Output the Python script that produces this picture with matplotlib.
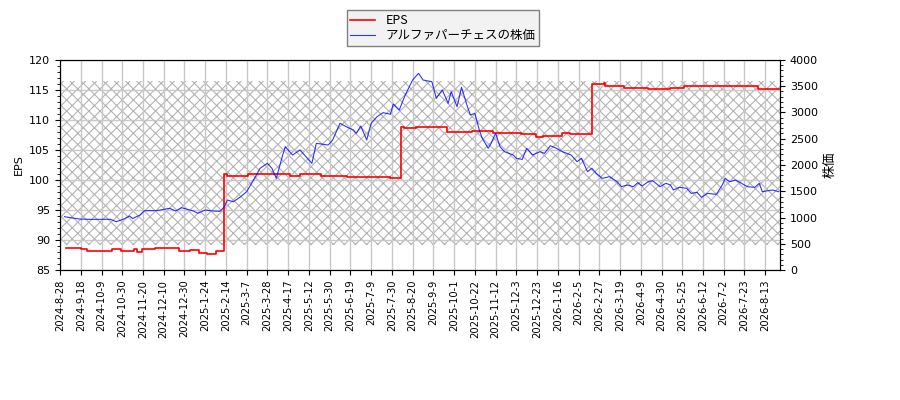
import matplotlib
matplotlib.use("Agg")
import matplotlib.pyplot as plt
from matplotlib.patches import Rectangle
from matplotlib.ticker import MultipleLocator

plt.rcParams['font.family'] = ['DejaVu Sans', 'Noto Sans CJK JP']
plt.rcParams['hatch.linewidth'] = 0.8

# x axis: trading-day index, labelled every 14 days
tick_labels = [
    '2024-8-28', '2024-9-18', '2024-10-9', '2024-10-30', '2024-11-20',
    '2024-12-10', '2024-12-30', '2025-1-24', '2025-2-14', '2025-3-7',
    '2025-3-28', '2025-4-17', '2025-5-12', '2025-5-30', '2025-6-19',
    '2025-7-9', '2025-7-30', '2025-8-20', '2025-9-9', '2025-10-1',
    '2025-10-22', '2025-11-12', '2025-12-3', '2025-12-23', '2026-1-16',
    '2026-2-5', '2026-2-27', '2026-3-19', '2026-4-9', '2026-4-30',
    '2026-5-25', '2026-6-12', '2026-7-2', '2026-7-23', '2026-8-13',
]
tick_step = 14

# EPS (step values, start index of each level)
eps_idx = [4, 14, 18, 35, 41, 50, 52, 55, 64, 80, 88, 94, 99, 105,
           111, 113, 127, 155, 162, 176, 194, 223, 230, 232, 240, 261,
           278, 292, 311, 321, 326, 339, 344, 359, 367, 368, 381, 397,
           412, 421, 471, 477, 485]
eps_vals = [88.6, 88.45, 88.1, 88.45, 88.1, 88.45, 87.95, 88.45, 88.6, 88.1,
            88.3, 87.8, 87.6, 88.1, 101.0, 100.67, 101.0, 100.67, 100.95,
            100.67, 100.55, 100.3, 108.9, 108.7, 108.8, 107.95, 108.15,
            107.8, 107.6, 107.15, 107.4, 107.8, 107.6, 116.0, 116.2, 115.7,
            115.3, 115.2, 115.3, 115.6, 115.1, 115.2, 115.2]

# share price (read at these indices)
price_idx = [3, 13, 20, 34, 38, 43, 47, 49, 54, 57, 65, 74, 78, 82, 90, 93,
             98, 103, 108, 111, 113, 117, 122, 126, 130, 135, 140, 143, 146,
             150, 152, 157, 162, 165, 170, 173, 181, 184, 189, 194, 198, 200,
             203, 207, 210, 214, 218, 223, 225, 229, 233, 238, 242, 245, 251,
             254, 258, 262, 264, 268, 271, 275, 277, 280, 283, 285, 289, 291,
             294, 297, 300, 306, 308, 312, 315, 319, 324, 327, 331, 335, 339,
             345, 349, 352, 356, 359, 362, 366, 371, 376, 379, 383, 387, 390,
             393, 397, 400, 405, 409, 412, 414, 418, 423, 426, 430, 433, 437,
             443, 447, 449, 452, 456, 460, 464, 469, 472, 474, 478, 481, 485]
price_vals = [1015, 971, 965, 965, 920, 971, 1028, 980, 1048, 1130, 1130, 1175,
              1124, 1187, 1124, 1080, 1143, 1124, 1118, 1206, 1333, 1300, 1397,
              1492, 1682, 1937, 2032, 1937, 1746, 2159, 2349, 2190, 2286, 2190,
              2032, 2413, 2381, 2476, 2794, 2718, 2667, 2603, 2743, 2476, 2794,
              2921, 2997, 2966, 3162, 3048, 3333, 3619, 3746, 3619, 3587, 3270,
              3429, 3175, 3397, 3111, 3480, 3111, 2953, 2984, 2667, 2508, 2318,
              2413, 2603, 2349, 2254, 2190, 2127, 2107, 2318, 2190, 2254, 2222,
              2368, 2318, 2254, 2190, 2063, 2127, 1873, 1937, 1841, 1746, 1778,
              1682, 1587, 1619, 1587, 1663, 1600, 1682, 1701, 1587, 1651, 1619,
              1524, 1575, 1556, 1460, 1479, 1384, 1460, 1441, 1619, 1746, 1682,
              1714, 1651, 1587, 1575, 1651, 1492, 1511, 1524, 1492]

fig = plt.figure(figsize=(9, 4), dpi=100)
ax = fig.add_axes([0.0667, 0.325, 0.8, 0.525])
ax2 = ax.twinx()

ax.add_patch(Rectangle((0, 0.12), 1, 0.78, transform=ax.transAxes,
                       fill=False, hatch='xxx', edgecolor='#b4b4b4', lw=0, zorder=0.2))
ax.set_axisbelow(True)
ax.grid(True, color='#c8c8c8', lw=1)

l1, = ax.plot(eps_idx, eps_vals, color='red', lw=1.2, drawstyle='steps-post', label='EPS')
l2, = ax2.plot(price_idx, price_vals, color='blue', lw=0.8, alpha=0.8,
               label='アルファパーチェスの株価')

ax.set_xlim(0, 486)
ax.set_ylim(85, 120)
ax2.set_ylim(0, 4000)
ax.yaxis.set_major_locator(MultipleLocator(5))
ax.yaxis.set_minor_locator(MultipleLocator(1))
ax2.yaxis.set_major_locator(MultipleLocator(500))
ax2.yaxis.set_minor_locator(MultipleLocator(100))

ax.set_xticks(range(0, tick_step * len(tick_labels), tick_step))
ax.set_xticklabels(tick_labels, rotation=90, fontsize=8, fontstretch='condensed')
ax.tick_params(axis='y', labelsize=8)
ax2.tick_params(axis='y', labelsize=8)
ax.set_ylabel('EPS', fontsize=8)
ax2.set_ylabel('株価', fontsize=9.5, family=['Noto Sans CJK JP', 'DejaVu Sans'])

leg = fig.legend([l1, l2], ['EPS', 'アルファパーチェスの株価'], loc='upper center',
                 bbox_to_anchor=(0.492, 0.99), fancybox=False, framealpha=1,
                 facecolor='#f2f2f2', edgecolor='#808080', borderpad=0.3,
                 labelspacing=0.2,
                 prop={'family': ['Noto Sans CJK JP', 'DejaVu Sans'], 'size': 9})

fig.savefig('out.png')
